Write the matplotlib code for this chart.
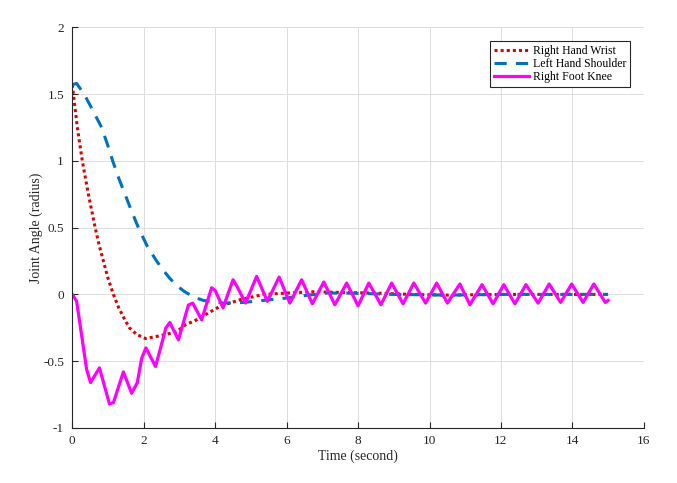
import matplotlib.pyplot as plt
import numpy as np

# Right Hand Wrist (red dotted)
wrist_t = [0, 0.03, 0.14, 0.28, 0.45, 0.64, 0.75, 0.87, 1.0, 1.15, 1.3, 1.45, 1.6, 1.8,
           2.05, 2.45, 2.92, 3.15, 3.48, 3.8, 4.13, 4.69, 5.35, 6.0, 6.74, 7.5, 8.5,
           9.5, 10.5, 12.0, 13.5, 15.0]
wrist_y = [1.57, 1.5, 1.25, 1.0, 0.75, 0.5, 0.37, 0.25, 0.12, 0.0, -0.1, -0.18, -0.25, -0.30,
           -0.33, -0.31, -0.28, -0.23, -0.19, -0.14, -0.09, -0.04, 0.0, 0.01, 0.02, 0.015, 0.01,
           0.0, -0.005, 0.0, 0.0, 0.0]

# Left Hand Shoulder (blue dashed)
shoulder_t = [0, 0.12, 0.33, 0.57, 0.82, 1.0, 1.13, 1.3, 1.475, 1.65, 1.85, 2.1, 2.36,
              2.55, 2.73, 2.95, 3.15, 3.4, 3.67, 4.23, 4.8, 5.35, 5.9, 6.46, 7.12, 7.77,
              9.0, 10.5, 12.0, 13.5, 15.0]
shoulder_y = [1.57, 1.58, 1.5, 1.38, 1.25, 1.11, 1.0, 0.87, 0.75, 0.63, 0.5, 0.36, 0.25,
              0.18, 0.12, 0.06, 0.02, -0.02, -0.045, -0.065, -0.06, -0.045, -0.03, -0.01,
              0.01, 0.01, 0.0, -0.005, 0.0, 0.0, 0.0]

# Right Foot Knee (magenta solid)
knee_t = [0, 0.12, 0.4, 0.51, 0.76, 1.04, 1.15, 1.43, 1.66, 1.82, 1.94, 2.06, 2.33,
          2.62, 2.73, 2.97, 3.25, 3.37, 3.62, 3.9, 4.0, 4.22, 4.5, 4.6, 4.85, 5.16,
          5.46, 5.79, 6.09, 6.42, 6.72, 7.04, 7.35, 7.68, 8.0, 8.3, 8.64, 8.94, 9.26,
          9.56, 9.89, 10.2, 10.5, 10.85, 11.13, 11.47, 11.78, 12.08, 12.39, 12.7,
          13.04, 13.35, 13.67, 13.98, 14.3, 14.6, 14.92, 15.0]
knee_y = [0, -0.05, -0.56, -0.66, -0.55, -0.82, -0.81, -0.58, -0.74, -0.66, -0.48, -0.40,
          -0.54, -0.25, -0.21, -0.34, -0.08, -0.065, -0.19, 0.05, 0.03, -0.10, 0.11, 0.065,
          -0.065, 0.135, -0.052, 0.13, -0.065, 0.11, -0.07, 0.093, -0.077, 0.085, -0.085,
          0.085, -0.077, 0.085, -0.07, 0.085, -0.065, 0.085, -0.065, 0.078, -0.077, 0.073,
          -0.07, 0.073, -0.07, 0.073, -0.065, 0.078, -0.06, 0.078, -0.06, 0.078, -0.06,
          -0.045]

x_ticks = [0, 2, 4, 6, 8, 10, 12, 14, 16]
y_ticks = [-1, -0.5, 0, 0.5, 1, 1.5, 2]

plt.rcParams['font.family'] = ['Liberation Serif', 'DejaVu Serif']

fig = plt.figure(figsize=(6.77, 4.83), dpi=100)
ax = fig.add_axes([0.1068, 0.1139, 0.8442, 0.8296])

ax.plot(wrist_t, wrist_y, color='#e00000', linestyle=(0, (1, 1)), linewidth=2.2,
        label='Right Hand Wrist')
ax.plot(shoulder_t, shoulder_y, color='#0072bd', linestyle=(0, (4, 3)), linewidth=2.2,
        label='Left Hand Shoulder')
ax.plot(knee_t, knee_y, color='#ff00ff', linestyle='-', linewidth=2.3,
        label='Right Foot Knee')

ax.set_xlim(0, 16)
ax.set_ylim(-1, 2)
ax.set_xticks(x_ticks)
ax.set_yticks(y_ticks)
ax.set_xticklabels(['%g' % v for v in x_ticks])
ax.set_yticklabels(['%g' % v for v in y_ticks])
ax.tick_params(direction='in', length=4, width=0.8, labelsize=9.5, colors='#262626')
ax.tick_params(axis='x', pad=5)
ax.tick_params(axis='y', pad=6)
ax.grid(True, color='#dcdcdc', linewidth=0.7)
ax.set_axisbelow(True)
for side in ['top', 'right']:
    ax.spines[side].set_visible(False)
for side in ['left', 'bottom']:
    ax.spines[side].set_color('#262626')
    ax.spines[side].set_linewidth(0.8)

ax.set_xlabel('Time (second)', fontsize=10, color='#262626', labelpad=2)
ax.set_ylabel('Joint Angle (radius)', fontsize=10, color='#262626', labelpad=0)

leg = ax.legend(loc='upper right', bbox_to_anchor=(0.975, 0.965), fontsize=8.5,
                handlelength=3.0, handletextpad=0.3, borderpad=0.3, labelspacing=0.1,
                fancybox=False, framealpha=1.0, borderaxespad=0)
leg.get_frame().set_edgecolor('#262626')
leg.get_frame().set_linewidth(0.8)

fig.savefig('out.png', dpi=100)
